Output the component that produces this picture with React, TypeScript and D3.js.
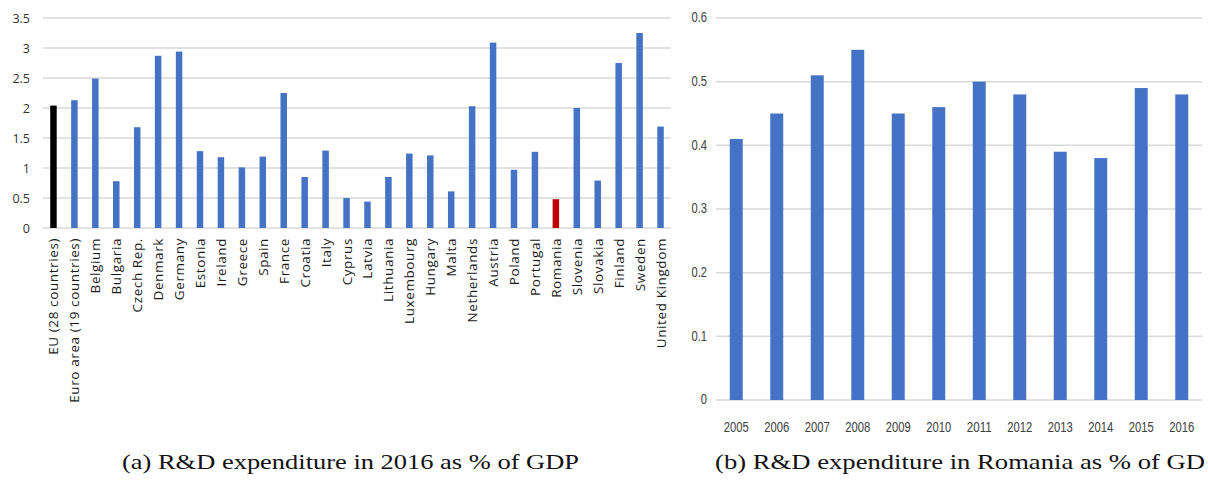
import React from "react";
import * as d3 from "d3";

const countries = [
  "EU (28 countries)", "Euro area (19 countries)", "Belgium", "Bulgaria", "Czech Rep.",
  "Denmark", "Germany", "Estonia", "Ireland", "Greece", "Spain", "France", "Croatia",
  "Italy", "Cyprus", "Latvia", "Lithuania", "Luxembourg", "Hungary", "Malta",
  "Netherlands", "Austria", "Poland", "Portugal", "Romania", "Slovenia", "Slovakia",
  "Finland", "Sweden", "United Kingdom",
];
const countryValues = [
  2.04, 2.13, 2.49, 0.78, 1.68, 2.87, 2.94, 1.28, 1.18, 1.01, 1.19, 2.25, 0.85,
  1.29, 0.5, 0.44, 0.85, 1.24, 1.21, 0.61, 2.03, 3.09, 0.97, 1.27, 0.48, 2.0, 0.79,
  2.75, 3.25, 1.69,
];
const leftTicks = [0, 0.5, 1, 1.5, 2, 2.5, 3, 3.5];

const years = ["2005", "2006", "2007", "2008", "2009", "2010", "2011", "2012", "2013", "2014", "2015", "2016"];
const romaniaValues = [0.41, 0.45, 0.51, 0.55, 0.45, 0.46, 0.5, 0.48, 0.39, 0.38, 0.49, 0.48];
const rightTicks = [0, 0.1, 0.2, 0.3, 0.4, 0.5, 0.6];

const captionA = "(a) R&D expenditure in 2016 as % of GDP";
const captionB = "(b) R&D expenditure in Romania as % of GD";

const BLUE = "#4472C4";
const GRID = "#d9d9d9";
const CAP_SCALE = 1.3;

export default function App() {
  const xA = d3.scaleBand<string>().domain(countries).range([43, 671]).paddingInner(0.69).paddingOuter(0.345);
  const yA = d3.scaleLinear().domain([0, 3.5]).range([228, 18]);

  const xB = d3.scaleBand<string>().domain(years).range([716, 1202]).paddingInner(0.68).paddingOuter(0.34);
  const yB = d3.scaleLinear().domain([0, 0.6]).range([400, 18]);

  const colorFor = (c: string) =>
    c === "EU (28 countries)" ? "#000000" : c === "Romania" ? "#C00000" : BLUE;

  return (
    <svg
      width={1208}
      height={484}
      style={{ position: "absolute", left: 0, top: 0, background: "#fff" }}
    >
      <g>
        {leftTicks.map((t) => (
          <g key={"la" + t}>
            <line x1={43} x2={671} y1={yA(t)} y2={yA(t)} stroke={GRID} strokeWidth={1.5} />
            <text
              x={30}
              y={yA(t)}
              textAnchor="end"
              dominantBaseline="central"
              fontFamily="'Open Sans', sans-serif"
              fontSize={12.5}
              fill="#333"
            >
              {String(t)}
            </text>
          </g>
        ))}
        {countries.map((c, i) => (
          <rect
            key={c}
            x={xA(c)!}
            y={yA(countryValues[i])}
            width={xA.bandwidth()}
            height={yA(0) - yA(countryValues[i])}
            fill={colorFor(c)}
          />
        ))}
        {countries.map((c) => {
          const cx = xA(c)! + xA.bandwidth() / 2;
          return (
            <text
              key={"l" + c}
              transform={`translate(${cx + 5},238) rotate(-90)`}
              textAnchor="end"
              fontFamily="'Open Sans', sans-serif"
              fontSize={13.5}
              letterSpacing={0.6}
              fill="#1a1a1a"
            >
              {c}
            </text>
          );
        })}
      </g>

      <g>
        {rightTicks.map((t) => (
          <g key={"rb" + t}>
            <line x1={716} x2={1202} y1={yB(t)} y2={yB(t)} stroke={GRID} strokeWidth={1.5} />
            <text
              x={707}
              y={yB(t)}
              textAnchor="end"
              dominantBaseline="central"
              fontFamily="'Liberation Sans', sans-serif"
              fontSize={14}
              fill="#404040"
              transform={`translate(${707 * 0.2},0) scale(0.8,1)`}
            >
              {t === 0 ? "0" : t.toFixed(1)}
            </text>
          </g>
        ))}
        {years.map((y, i) => (
          <rect
            key={y}
            x={xB(y)!}
            y={yB(romaniaValues[i])}
            width={xB.bandwidth()}
            height={yB(0) - yB(romaniaValues[i])}
            fill={BLUE}
          />
        ))}
        {years.map((y) => {
          const cx = xB(y)! + xB.bandwidth() / 2;
          return (
            <text
              key={"y" + y}
              x={cx}
              y={432}
              textAnchor="middle"
              fontFamily="'Liberation Sans', sans-serif"
              fontSize={14}
              fill="#404040"
              textLength={25}
              lengthAdjust="spacingAndGlyphs"
            >
              {y}
            </text>
          );
        })}
      </g>

      <text
        transform={`translate(122,469) scale(${CAP_SCALE},1)`}
        fontFamily="'Liberation Serif', 'Times New Roman', serif"
        fontSize={20}
        fill="#111"
        textLength={457 / CAP_SCALE}
        lengthAdjust="spacingAndGlyphs"
      >
        {captionA}
      </text>
      <text
        transform={`translate(715,469) scale(${CAP_SCALE},1)`}
        fontFamily="'Liberation Serif', 'Times New Roman', serif"
        fontSize={20}
        fill="#111"
        textLength={490 / CAP_SCALE}
        lengthAdjust="spacingAndGlyphs"
      >
        {captionB}
      </text>
    </svg>
  );
}
